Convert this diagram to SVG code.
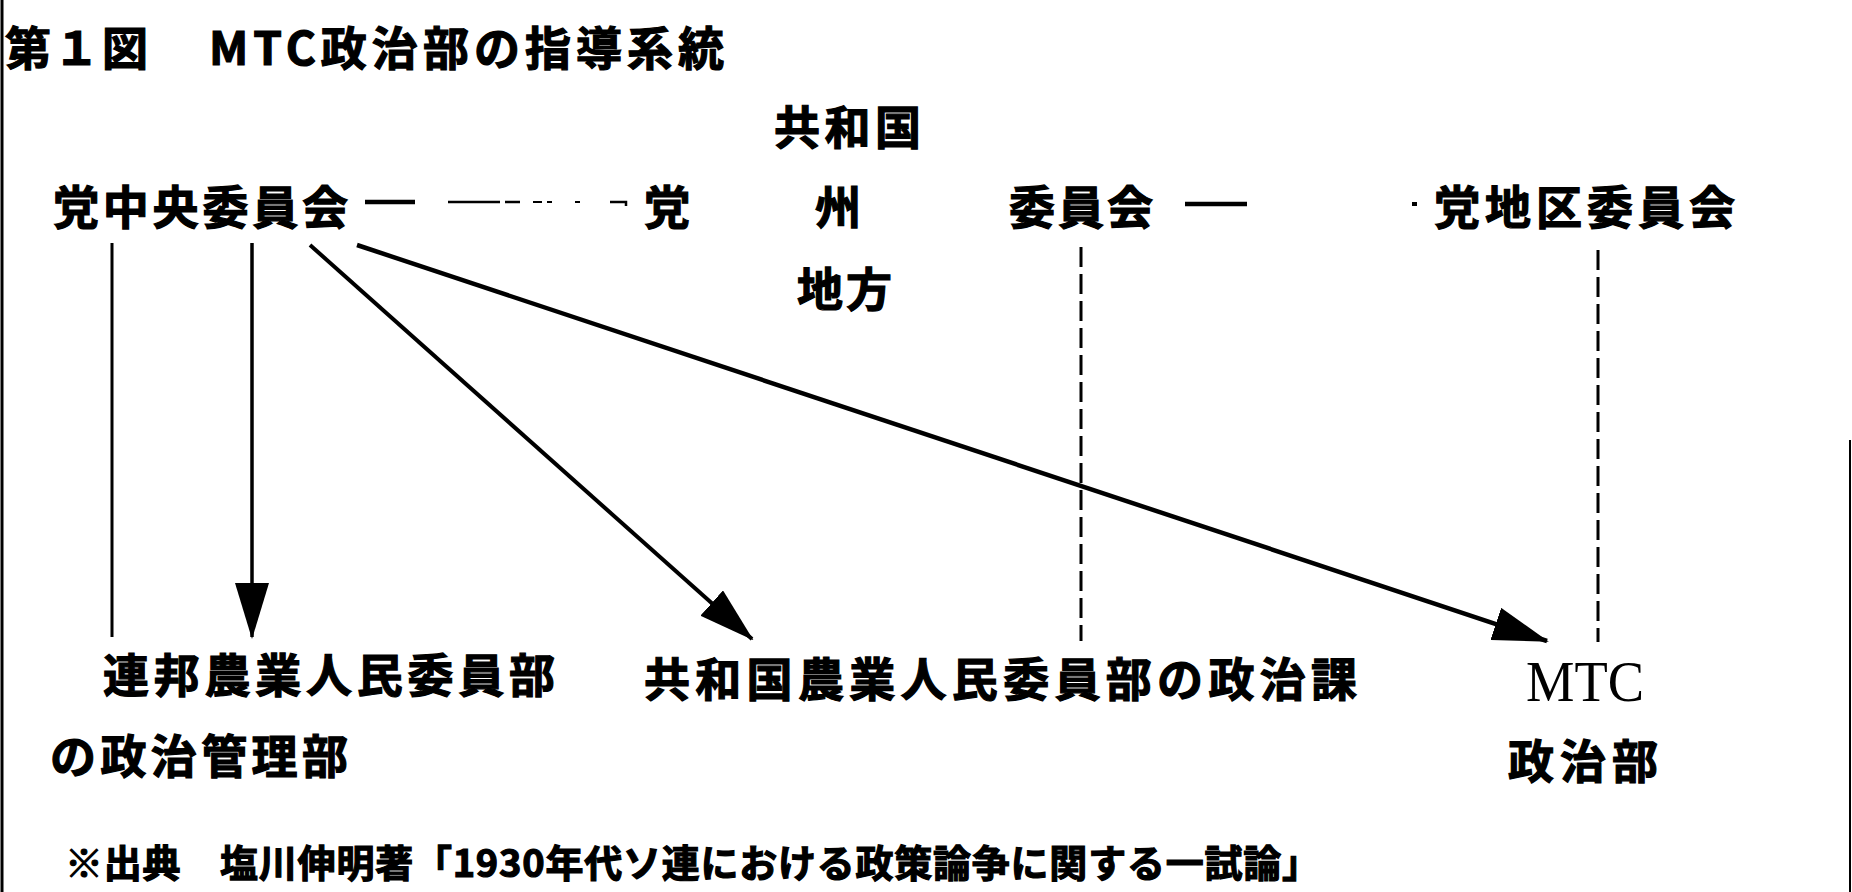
<svg xmlns="http://www.w3.org/2000/svg" width="1852" height="892" viewBox="0 0 1852 892">
<style>
.j{font-family:"Noto Sans CJK JP","Noto Sans CJK SC",sans-serif;font-weight:700;fill:#000;stroke:#000;stroke-width:1.2}
.t{font-size:46px}
.s{font-size:38px}
.r{font-family:"Liberation Serif",serif;font-size:56px;fill:#000}
.ln{stroke:#000;fill:none}
.dsh{stroke:#000;stroke-width:3;stroke-dasharray:20 7;fill:none}
</style>
<defs>
<marker id="ah" viewBox="0 0 56 34" refX="54" refY="17" markerWidth="56" markerHeight="34" markerUnits="userSpaceOnUse" orient="auto">
<path d="M0,0 L56,17 L0,34 z" fill="#000"/>
</marker>
</defs>
<rect width="1852" height="892" fill="#fff"/>
<g id="border">
<line class="ln" x1="2" y1="0" x2="2" y2="892" stroke-width="3"/>
<line class="ln" x1="1850" y1="440" x2="1850" y2="892" stroke-width="2"/>
</g>
<g id="title">
<text class="j t" x="5" y="65" textLength="143" lengthAdjust="spacing">第１図</text>
<text class="j t" x="209" y="65" textLength="515" lengthAdjust="spacing">MTC政治部の指導系統</text>
</g>
<g id="node-central"><text class="j t" x="53" y="224" textLength="295" lengthAdjust="spacing">党中央委員会</text></g>
<g id="node-republic">
<text class="j t" x="774" y="144" textLength="147" lengthAdjust="spacing">共和国</text>
<text class="j t" x="644" y="224">党</text>
<text class="j t" x="815" y="224">州</text>
<text class="j t" x="1009" y="224" textLength="144" lengthAdjust="spacing">委員会</text>
<text class="j t" x="797" y="306" textLength="95" lengthAdjust="spacing">地方</text>
</g>
<g id="node-district"><text class="j t" x="1434" y="224" textLength="301" lengthAdjust="spacing">党地区委員会</text></g>
<g id="node-federal">
<text class="j t" x="103" y="692" textLength="452" lengthAdjust="spacing">連邦農業人民委員部</text>
<text class="j t" x="50" y="773" textLength="298" lengthAdjust="spacing">の政治管理部</text>
</g>
<g id="node-republic-section"><text class="j t" x="644" y="696" textLength="713" lengthAdjust="spacing">共和国農業人民委員部の政治課</text></g>
<g id="node-mtc">
<text class="r" x="1526" y="701" textLength="118" lengthAdjust="spacingAndGlyphs">MTC</text>
<text class="j t" x="1508" y="778" textLength="150" lengthAdjust="spacing">政治部</text>
</g>
<g id="footnote"><text class="j s" x="65" y="877" textLength="1255" lengthAdjust="spacing">※出典　塩川伸明著「1930年代ソ連における政策論争に関する一試論」</text></g>
<g id="connectors">
<line class="ln" x1="365" y1="202" x2="415" y2="202" stroke-width="4.5"/>
<line class="ln" x1="448" y1="202" x2="500" y2="202" stroke-width="2.5"/>
<line class="ln" x1="505" y1="202" x2="520" y2="202" stroke-width="2.5"/>
<line class="ln" x1="533" y1="202" x2="542" y2="202" stroke-width="2"/>
<line class="ln" x1="547" y1="202" x2="552" y2="202" stroke-width="2"/>
<line class="ln" x1="575" y1="202" x2="580" y2="202" stroke-width="2"/>
<path class="ln" d="M610,202 H626 V206" stroke-width="2.5"/>
<line class="ln" x1="1185" y1="204" x2="1247" y2="204" stroke-width="4.5"/>
<line class="ln" x1="1412" y1="204" x2="1417" y2="204" stroke-width="4"/>
<line class="ln" x1="112" y1="243" x2="112" y2="637" stroke-width="3"/>
<line class="ln" x1="252" y1="243" x2="252" y2="637" stroke-width="3.5" marker-end="url(#ah)"/>
<line class="ln" x1="310" y1="245" x2="752" y2="639" stroke-width="4" marker-end="url(#ah)"/>
<line class="ln" x1="357" y1="245" x2="1547" y2="641" stroke-width="4.5" marker-end="url(#ah)"/>
<line class="dsh" x1="1081" y1="247" x2="1081" y2="641"/>
<line class="dsh" x1="1598" y1="250" x2="1598" y2="642"/>
</g>
</svg>
